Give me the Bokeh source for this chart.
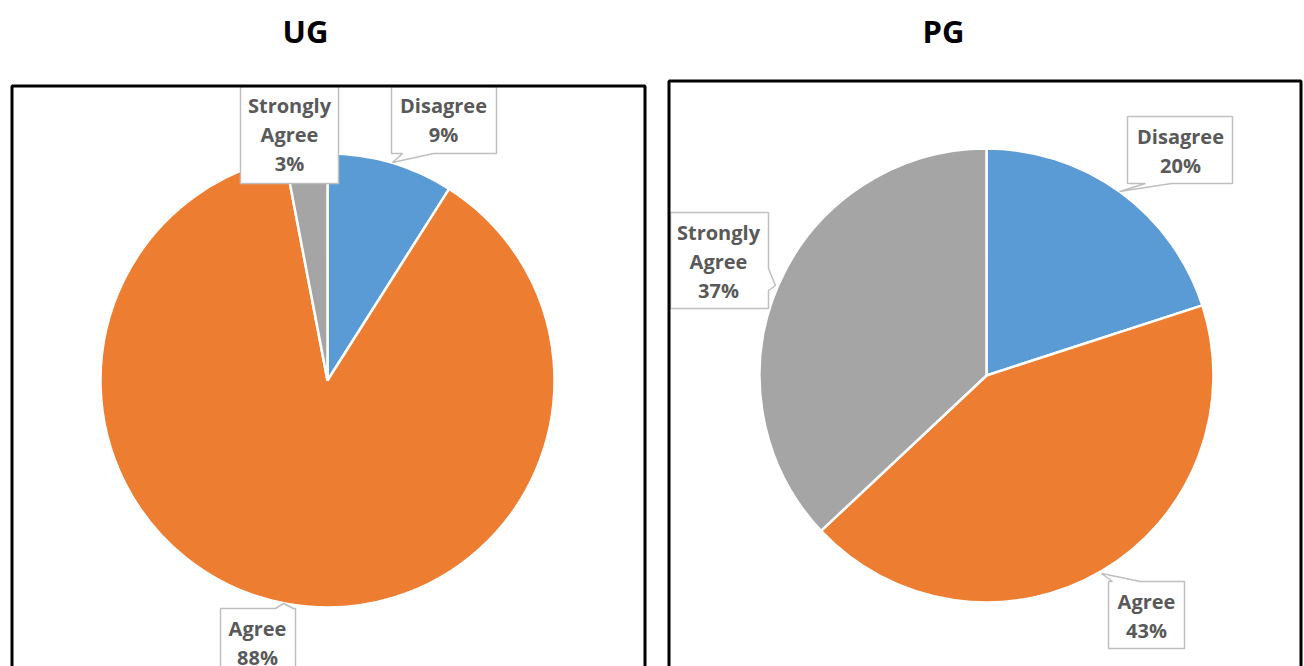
import numpy as np
from bokeh.plotting import figure
from bokeh.models import Range1d
from bokeh.core.properties import value
from bokeh.embed import file_html
from bokeh.resources import INLINE

# ---------------- data ----------------
categories = ["Disagree", "Agree", "Strongly Agree"]
ug_values = [9, 88, 3]
pg_values = [20, 43, 37]
colors = ["#5B9BD5", "#ED7D31", "#A5A5A5"]
titles = ["UG", "PG"]

# ---------------- layout (pixel coordinates on the page) ----------------
W, H = 1304, 666


def py(y):
    return H - y


pies = [
    dict(title="UG", values=ug_values, cx=327, cy=380, r=227, tx=305,
         frame=(11.5, 85.5, 644.5, 720)),
    dict(title="PG", values=pg_values, cx=986, cy=375, r=227, tx=943,
         frame=(668.5, 80.5, 1300.5, 720)),
]

# callout boxes: (left, top, right, bottom), pointer, text centre x, first line centre y
callouts = [
    # UG
    [dict(box=(391, 86, 496, 153), ptr=("bottom", 433, 402, (392, 162)), cx=443, c0=106),
     dict(box=(220, 608, 295, 720), ptr=("top", 275, 293, (283, 603)), cx=257, c0=629),
     dict(box=(240, 86, 338, 183), ptr=None, cx=289, c0=106)],
    # PG
    [dict(box=(1127, 116, 1232, 183), ptr=("bottom", 1171, 1145, (1119, 191)), cx=1180, c0=137),
     dict(box=(1108, 581, 1184, 648), ptr=("top", 1112, 1140, (1101, 573)), cx=1146, c0=602),
     dict(box=(670, 212, 768, 308), ptr=("right", 268, 290, (775, 285)), cx=718, c0=233)],
]

p = figure(width=W, height=H, x_range=Range1d(0, W), y_range=Range1d(0, H),
           output_backend="svg", toolbar_location=None, min_border=0,
           x_axis_location=None, y_axis_location=None)
p.grid.visible = False
p.outline_line_color = None
p.background_fill_color = "white"
p.border_fill_color = "white"

FONT = value("Open Sans")

for pie, cs in zip(pies, callouts):
    vals = np.array(pie["values"], dtype=float)
    cum = np.concatenate([[0], np.cumsum(vals)]) / vals.sum()
    start = np.pi / 2 - 2 * np.pi * cum[:-1]
    end = np.pi / 2 - 2 * np.pi * cum[1:]
    p.wedge(x=[pie["cx"]] * len(vals), y=[py(pie["cy"])] * len(vals), radius=pie["r"],
            start_angle=start, end_angle=end, direction="clock",
            fill_color=colors, line_color="white", line_width=2.5)

    xs_all, ys_all = [], []
    tx, ty, tt = [], [], []
    for cat, v, c in zip(categories, pie["values"], cs):
        l, t, r, b = c["box"]
        ptr = c["ptr"]
        if ptr and ptr[0] == "top":
            _, a1, a2, tip = ptr
            pts = [(l, t), (a1, t), tip, (a2, t), (r, t), (r, b), (l, b)]
        else:
            pts = [(l, t), (r, t)]
            if ptr and ptr[0] == "right":
                _, a1, a2, tip = ptr
                pts += [(r, a1), tip, (r, a2)]
            pts += [(r, b)]
            if ptr and ptr[0] == "bottom":
                _, a1, a2, tip = ptr
                pts += [(a1, b), tip, (a2, b)]
            pts += [(l, b)]
        xs_all.append([q[0] for q in pts])
        ys_all.append([py(q[1]) for q in pts])
        lines = cat.split(" ") + [f"{v}%"]
        for i, ln in enumerate(lines):
            tx.append(c["cx"])
            ty.append(py(c["c0"] + 29 * i - 1))
            tt.append(ln)
    p.patches(xs=xs_all, ys=ys_all, fill_color="white", line_color="#BFBFBF", line_width=1.5)
    p.text(x=tx, y=ty, text=tt, text_font=FONT, text_font_style="bold",
           text_font_size="20px", text_color="#595959", text_align="center",
           text_baseline="alphabetic")

    fl, ft, fr, fb = pie["frame"]
    p.quad(left=[fl], right=[fr], top=[py(ft)], bottom=[py(fb)], fill_color=None,
           line_color="black", line_width=3)

p.text(x=[pies[0]["tx"], pies[1]["tx"]], y=[py(30), py(30)], text=titles,
       text_font=FONT, text_font_style="bold", text_font_size="31px",
       text_color="black", text_align="center", text_baseline="alphabetic")

open("out.html", "w").write(file_html(p, INLINE))
